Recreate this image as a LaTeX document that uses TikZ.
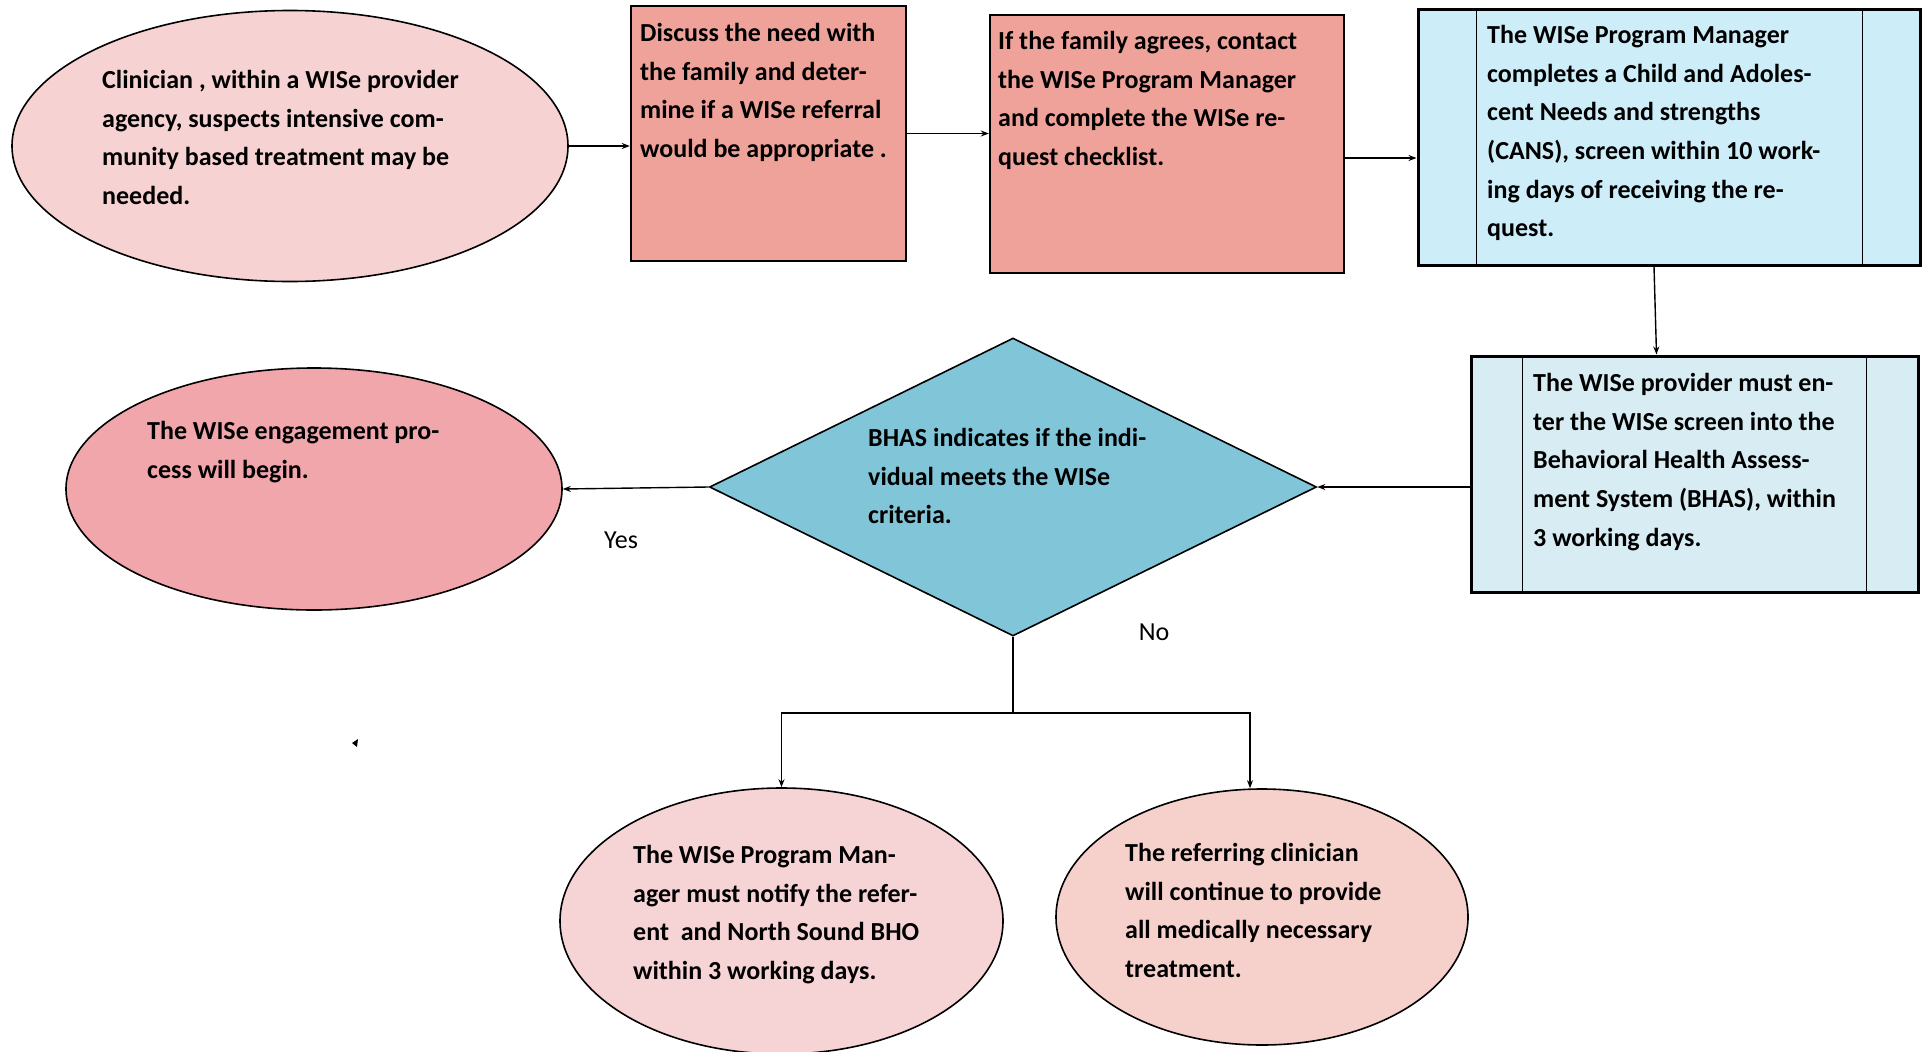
\documentclass[tikz,border=0pt]{standalone}
\usepackage{fontspec}
\setmainfont{Carlito}
\usetikzlibrary{shapes.geometric,arrows.meta,positioning}
\definecolor{clinpink}{HTML}{F6D2D3}
\definecolor{salmon}{HTML}{EFA299}
\definecolor{canscyan}{HTML}{CDEEF9}
\definecolor{bhaspale}{HTML}{D7EDF3}
\definecolor{critblue}{HTML}{81C5D9}
\definecolor{engrose}{HTML}{F0A6AA}
\definecolor{notepink}{HTML}{F6D3D4}
\definecolor{referpeach}{HTML}{F6D1CC}
\begin{document}
\begin{tikzpicture}
[
    x=1pt, y=-1pt,
    oval/.style={ellipse, draw, line width=1.6pt, inner sep=0pt},
    card/.style={rectangle, draw, line width=2.4pt, fill=salmon, inner sep=0pt},
    panel/.style={rectangle, draw, line width=3pt, inner sep=0pt},
    choice/.style={diamond, draw, line width=1.6pt, fill=critblue, inner sep=0pt},
    note/.style={anchor=north west, align=left, inner sep=0pt, font=\fontsize{26}{38.7}\selectfont\bfseries},
    answer/.style={inner sep=0pt, font=\fontsize{26}{30}\selectfont},
    flow/.style={draw, line width=1.4pt, -{Stealth[length=8pt,width=6pt]}},
]
\useasboundingbox (0,0) rectangle (1925,1052);

% shapes
\node[oval, fill=clinpink, minimum width=556pt, minimum height=271pt] (clin) at (290,146) {};
\node[card, minimum width=275pt, minimum height=255pt] (disc) at (768.5,133.5) {};
\node[card, minimum width=354pt, minimum height=258pt] (req) at (1167,144) {};
\node[panel, fill=canscyan, minimum width=502pt, minimum height=256pt] (cans) at (1669,137) {};
\node[panel, fill=bhaspale, minimum width=447pt, minimum height=236pt] (bhas) at (1694.5,474) {};
\node[choice, minimum width=607pt, minimum height=298pt] (crit) at (1013,487) {};
\node[oval, fill=engrose, minimum width=496pt, minimum height=242pt] (eng) at (314,489) {};
\node[oval, fill=notepink, minimum width=443pt, minimum height=266pt] (notify) at (781.5,921) {};
\node[oval, fill=referpeach, minimum width=412pt, minimum height=256pt] (refer) at (1262,917) {};

% side bars of the two panels
\draw[line width=1.4pt] ([xshift=60pt]cans.north west) -- ([xshift=60pt]cans.south west);
\draw[line width=1.4pt] ([xshift=-59pt]cans.north east) -- ([xshift=-59pt]cans.south east);
\draw[line width=1.4pt] ([xshift=53pt]bhas.north west) -- ([xshift=53pt]bhas.south west);
\draw[line width=1.4pt] ([xshift=-53pt]bhas.north east) -- ([xshift=-53pt]bhas.south east);

% texts
\node[note] (clintext) at (102,70) {Clinician , within a WISe provider\\agency, suspects intensive com-\\munity based treatment may be\\needed.};
\node[note] (disctext) at (640,23) {Discuss the need with\\the family and deter-\\mine if a WISe referral\\would be appropriate .};
\node[note] (reqtext) at (998,31) {If the family agrees, contact\\the WISe Program Manager\\and complete the WISe re-\\quest checklist.};
\node[note] (canstext) at (1487,25) {The WISe Program Manager\\completes a Child and Adoles-\\cent Needs and strengths\\(CANS), screen within 10 work-\\ing days of receiving the re-\\quest.};
\node[note] (bhastext) at (1533,373) {The WISe provider must en-\\ter the WISe screen into the\\Behavioral Health Assess-\\ment System (BHAS), within\\3 working days.};
\node[note] (crittext) at (868,428) {BHAS indicates if the indi-\\vidual meets the WISe\\criteria.};
\node[note] (engtext) at (147,421) {The WISe engagement pro-\\cess will begin.};
\node[note] (notifytext) at (633,845) {The WISe Program Man-\\ager must notify the refer-\\ent~ and North Sound BHO\\within 3 working days.};
\node[note] (refertext) at (1125,843) {The referring clinician\\will continue to provide\\all medically necessary\\treatment.};
\node[answer] (yes) at (621,540) {Yes};
\node[answer] (no) at (1154,632) {No};

% connectors
\draw[flow] (clin.east) -- (clin.east -| disc.west);
\draw[flow] (disc.east) -- (disc.east -| req.west);
\draw[flow] ([yshift=-14pt]req.east) -- ([yshift=-14pt]req.east -| cans.west);
\draw[flow] ([xshift=-15pt]cans.south) -- ([xshift=-38pt]bhas.north);
\draw[flow] (bhas.west |- crit.east) -- (crit.east);
\draw[flow] (crit.west) -- (eng.east);
\draw[line width=1.4pt] (crit.south) -- ++(0,76) coordinate (split);
\draw[flow] (split) -| (notify.north);
\draw[flow] (split) -| ([xshift=-12pt]refer.north);
\fill (352,743) -- (358,739) -- (357,747) -- cycle;
\end{tikzpicture}
\end{document}
